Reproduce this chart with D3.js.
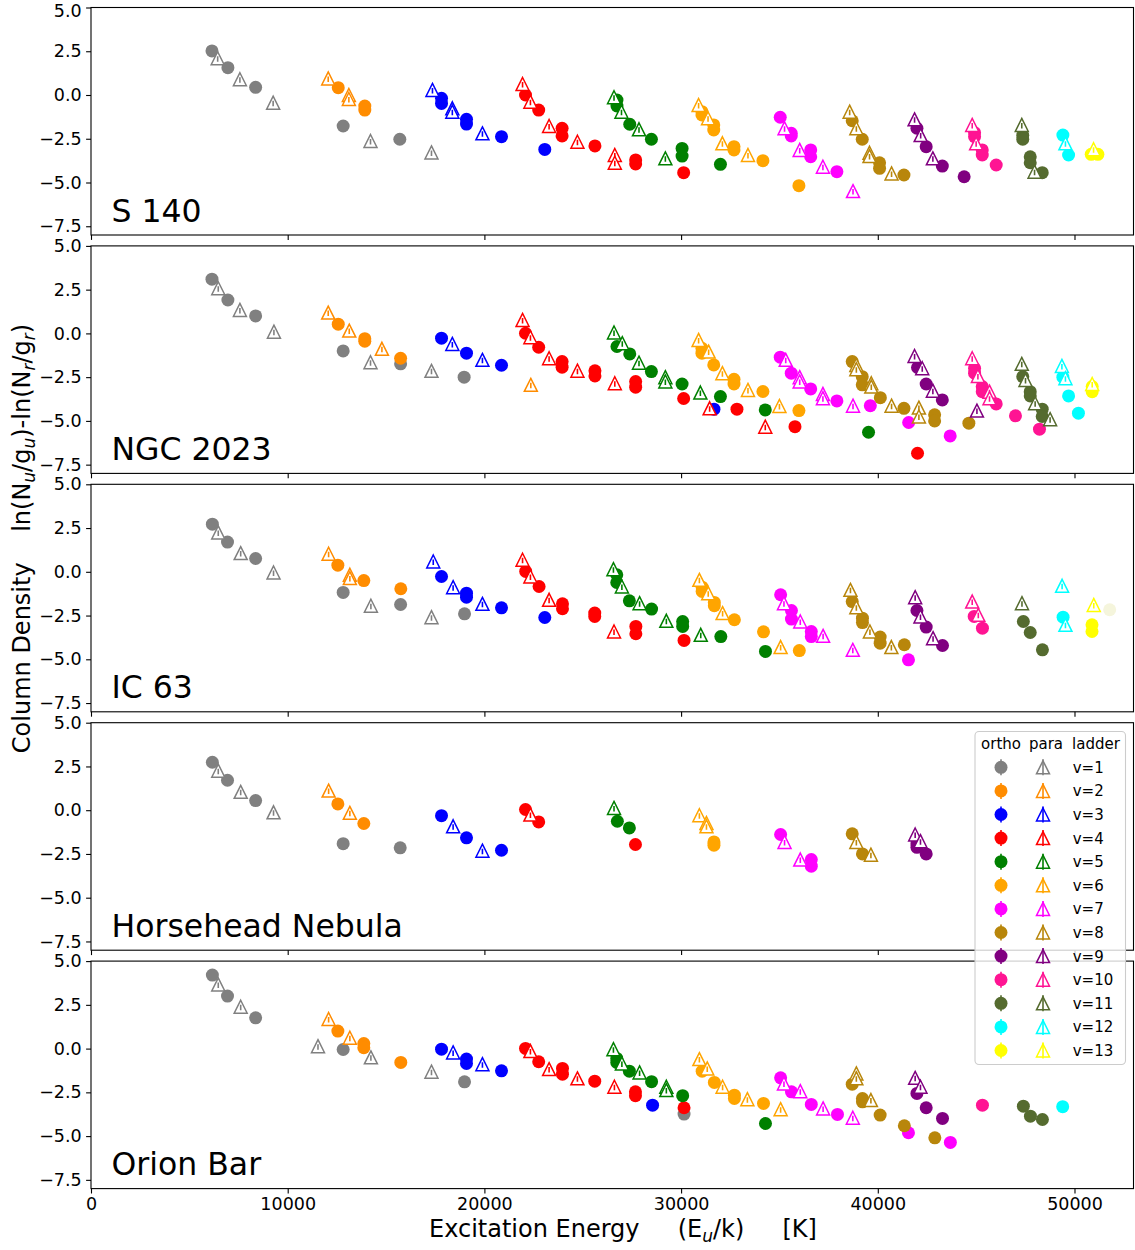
<!DOCTYPE html>
<html>
<head>
<meta charset="utf-8">
<script src="https://cdn.jsdelivr.net/npm/d3@7"></script>
<style>
  body { margin: 0; background: #fff; }
  svg { display: block; font-family: "DejaVu Sans", sans-serif; }
</style>
</head>
<body>
<svg id="chart" width="1135" height="1250"></svg>
<script>
// ---- data -------------------------------------------------------------
const sources = ["S 140", "NGC 2023", "IC 63", "Horsehead Nebula", "Orion Bar"];
const ladders = ["v=1", "v=2", "v=3", "v=4", "v=5", "v=6", "v=7",
                 "v=8", "v=9", "v=10", "v=11", "v=12", "v=13"];
const xTicks = [0, 10000, 20000, 30000, 40000, 50000];
const yTicks = [5.0, 2.5, 0.0, -2.5, -5.0, -7.5];

// each row: [vibrational level v, upper-level energy Eu/k (K), ln(Nu/gu)-ln(Nr/gr)]
const s140Ortho = [
  [1,6150,2.52],[1,6960,1.56],[1,8370,0.44],[1,12820,-1.77],[1,15700,-2.53],
  [2,12570,0.42],[2,13920,-0.63],[2,13920,-0.86],
  [3,17820,-0.19],[3,17820,-0.48],[3,19090,-1.39],[3,19090,-1.66],[3,20870,-2.38],[3,23070,-3.11],
  [4,22090,0.00],[4,22760,-0.86],[4,23950,-1.90],[4,23950,-2.34],[4,25620,-2.91],[4,27690,-3.71],[4,27690,-3.94],[4,30130,-4.44],
  [5,26740,-0.29],[5,26740,-0.63],[5,27390,-1.67],[5,28490,-2.53],[5,30050,-3.05],[5,30050,-3.49],[5,32000,-3.96],
  [6,31060,-0.95],[6,31060,-1.14],[6,31660,-1.71],[6,31660,-2.00],[6,32690,-2.95],[6,32690,-3.14],[6,34160,-3.75],[6,35990,-5.18],
  [7,35040,-1.27],[7,35600,-2.19],[7,35600,-2.34],[7,36590,-3.14],[7,36590,-3.53],[7,37920,-4.38],
  [8,38700,-1.47],[8,39210,-2.53],[8,40090,-3.87],[8,40090,-4.19],[8,41330,-4.57],
  [9,41990,-1.90],[9,42460,-2.95],[9,43280,-4.06],[9,44390,-4.67],
  [10,44920,-2.15],[10,44920,-2.38],[10,45310,-3.14],[10,45310,-3.43],[10,46020,-4.00],
  [11,47370,-2.30],[11,47370,-2.53],[11,47750,-3.53],[11,47750,-3.87],[11,48360,-4.44],
  [12,49410,-2.29],[12,49700,-3.43],
  [13,50850,-3.39],[13,51190,-3.39]
];
const s140Para = [
  [1,6440,2.10],[1,7570,0.90],[1,9260,-0.44],[1,14210,-2.63],[1,17310,-3.28],
  [2,12060,0.95],[2,13110,0.00],[2,13110,-0.23],
  [3,17360,0.29],[3,18370,-0.76],[3,18370,-0.95],[3,19900,-2.19],
  [4,21940,0.63],[4,22340,-0.38],[4,23290,-1.77],[4,24730,-2.67],[4,26630,-3.43],[4,26630,-3.87],
  [5,26590,-0.13],[5,26970,-0.95],[5,27860,-1.96],[5,29200,-3.62],
  [6,30890,-0.57],[6,31370,-1.33],[6,32100,-2.76],[6,33400,-3.43],
  [7,35260,-1.90],[7,36030,-3.14],[7,37210,-4.10],[7,38740,-5.49],
  [8,38570,-0.95],[8,38910,-1.90],[8,39580,-3.30],[8,39580,-3.49],[8,40700,-4.48],
  [9,41870,-1.39],[9,42180,-2.29],[9,42800,-3.62],
  [10,44800,-1.71],[10,45000,-2.76],
  [11,47320,-1.71],[11,47970,-4.38],
  [12,49540,-2.76],
  [13,50970,-3.10]
];

const ngc2023Ortho = [
  [1,6150,3.10],[1,6960,1.91],[1,8370,1.00],[1,12820,-1.00],[1,15740,-1.74],[1,18970,-2.50],
  [2,12570,0.53],[2,13920,-0.30],[2,13920,-0.45],[2,15740,-1.42],
  [3,17820,-0.27],[3,19090,-1.13],[3,20870,-1.82],[3,31670,-4.33],
  [4,22090,0.01],[4,22760,-0.79],[4,23950,-1.61],[4,23950,-1.93],[4,25620,-2.14],[4,25620,-2.43],[4,27690,-2.75],[4,27690,-3.07],[4,30130,-3.72],[4,32840,-4.33],[4,35790,-5.33],[4,42020,-6.85],
  [5,26740,-0.75],[5,27390,-1.17],[5,28490,-2.18],[5,30050,-2.89],[5,32000,-3.61],[5,34280,-4.37],[5,39530,-5.65],
  [6,31060,-0.85],[6,31060,-1.13],[6,31660,-1.80],[6,32690,-2.62],[6,32690,-2.89],[6,34160,-3.32],[6,35990,-4.41],
  [7,35040,-1.36],[7,35600,-2.27],[7,36590,-3.17],[7,37920,-3.86],[7,39620,-4.13],[7,41570,-5.09],[7,43680,-5.86],
  [8,38700,-1.61],[8,39210,-2.47],[8,39210,-2.94],[8,40130,-3.67],[8,41330,-4.28],[8,42890,-4.65],[8,42890,-5.00],[8,44630,-5.13],
  [9,42020,-1.95],[9,42460,-2.89],[9,43280,-3.80],
  [10,44920,-1.99],[10,44920,-2.27],[10,45310,-3.04],[10,45310,-3.33],[10,46020,-4.03],[10,47000,-4.71],[10,48220,-5.47],
  [11,47370,-2.47],[11,47750,-3.33],[11,47750,-3.57],[11,48360,-4.33],[11,48360,-4.75],
  [12,49410,-2.50],[12,49700,-3.57],[12,50200,-4.56],
  [13,50900,-3.04],[13,50900,-3.33]
];
const ngc2023Para = [
  [1,6470,2.58],[1,7570,1.34],[1,9300,0.10],[1,14210,-1.65],[1,17310,-2.14],
  [2,12060,1.19],[2,13130,0.16],[2,14790,-0.88],[2,22360,-2.94],
  [3,18370,-0.60],[3,19900,-1.51],
  [4,21940,0.77],[4,22340,-0.22],[4,23290,-1.42],[4,24730,-2.13],[4,26630,-2.85],[4,31450,-4.28],[4,34280,-5.33],
  [5,26590,0.05],[5,27010,-0.56],[5,27860,-1.67],[5,29200,-2.50],[5,29200,-2.75],[5,30980,-3.38],
  [6,30890,-0.37],[6,31400,-1.04],[6,32100,-2.27],[6,33400,-3.23],[6,35000,-4.15],
  [7,35320,-1.51],[7,36030,-2.50],[7,36030,-2.75],[7,37210,-3.46],[7,37210,-3.70],[7,38740,-4.13],
  [8,38910,-1.80],[8,38910,-2.05],[8,39670,-2.85],[8,39670,-3.04],[8,40700,-4.13],[8,42090,-4.24],[8,42090,-4.75],
  [9,41870,-1.29],[9,42260,-1.99],[9,42800,-3.27],[9,45040,-4.41],
  [10,44800,-1.42],[10,45090,-2.43],[10,45680,-3.33],[10,45680,-3.70],
  [11,47320,-1.74],[11,47510,-2.66],[11,48000,-3.99],[11,48760,-4.90],
  [12,49360,-1.86],[12,49540,-2.56],
  [13,50900,-2.89]
];

const ic63Ortho = [
  [1,6170,2.72],[1,6940,1.70],[1,8370,0.76],[1,12820,-1.18],[1,15740,-1.87],[1,18990,-2.40],
  [2,12550,0.38],[2,13870,-0.50],[2,15750,-0.97],
  [3,17820,-0.27],[3,19090,-1.22],[3,19090,-1.45],[3,20870,-2.06],[3,23070,-2.61],
  [4,22100,0.02],[4,22780,-0.84],[4,23970,-1.83],[4,23970,-2.11],[4,25610,-2.36],[4,25610,-2.55],[4,27700,-3.12],[4,27700,-3.54],[4,30150,-3.92],
  [5,26730,-0.17],[5,26730,-0.61],[5,27370,-1.66],[5,28500,-2.13],[5,30080,-2.84],[5,30080,-3.12],[5,32020,-3.70],[5,34290,-4.55],
  [6,31070,-0.88],[6,31070,-1.12],[6,31690,-1.75],[6,31690,-1.94],[6,32710,-2.74],[6,34190,-3.43],[6,36010,-4.50],
  [7,35060,-1.31],[7,35610,-2.21],[7,35610,-2.70],[7,36620,-3.41],[7,36620,-3.70],[7,41560,-5.03],
  [8,38700,-1.70],[8,39220,-2.65],[8,39220,-2.90],[8,40120,-3.73],[8,40120,-4.08],[8,41350,-4.17],
  [9,41990,-2.21],[9,42460,-3.16],[9,43290,-4.21],
  [10,44900,-2.55],[10,45320,-3.22],
  [11,47400,-2.84],[11,47750,-3.47],[11,48370,-4.46],
  [12,49420,-2.59],
  [13,50890,-3.03],[13,50890,-3.41],
  [14,51790,-2.17]
];
const ic63Para = [
  [1,6470,2.25],[1,7610,1.07],[1,9280,-0.04],[1,14230,-1.94],[1,17310,-2.59],
  [2,12080,1.03],[2,13160,-0.17],[2,13160,-0.36],
  [3,17400,0.59],[3,18410,-0.88],[3,19900,-1.83],
  [4,21940,0.69],[4,22340,-0.27],[4,23290,-1.60],[4,26590,-3.41],
  [5,26560,0.15],[5,26990,-0.84],[5,27890,-1.79],[5,29250,-2.80],[5,31000,-3.60],
  [6,30930,-0.46],[6,31380,-1.22],[6,32110,-2.36],[6,35060,-4.30],
  [7,35230,-1.79],[7,36060,-2.84],[7,37220,-3.66],[7,38730,-4.46],
  [8,38610,-1.03],[8,38910,-2.02],[8,39600,-3.41],[8,40690,-4.30],
  [9,41900,-1.45],[9,42170,-2.55],[9,42810,-3.79],
  [10,44800,-1.70],[10,45110,-2.46],
  [11,47330,-1.79],
  [12,49370,-0.80],[12,49540,-3.03],
  [13,50980,-1.89]
];

const horseheadOrtho = [
  [1,6170,2.74],[1,6940,1.71],[1,8370,0.55],[1,12820,-1.91],[1,15720,-2.15],
  [2,12550,0.36],[2,13870,-0.76],
  [3,17820,-0.31],[3,19090,-1.58],[3,20870,-2.29],
  [4,22090,0.04],[4,22760,-0.67],[4,27680,-1.96],
  [5,26760,-0.63],[5,27370,-1.01],
  [6,31670,-1.81],[6,31670,-2.00],
  [7,35060,-1.39],[7,36620,-2.82],[7,36620,-3.20],
  [8,38700,-1.35],[8,39220,-2.50],
  [9,41990,-1.93],[9,41990,-2.12],[9,42460,-2.50]
];
const horseheadPara = [
  [1,6470,2.26],[1,7610,1.05],[1,9280,-0.12],
  [2,12080,1.12],[2,13160,-0.15],
  [3,18410,-0.92],[3,19900,-2.31],
  [4,22340,-0.25],
  [5,26590,0.13],
  [6,30930,-0.29],[6,31290,-0.73],[6,31290,-0.92],
  [7,35260,-1.81],[7,36060,-2.82],
  [8,38910,-1.81],[8,39650,-2.54],
  [9,41900,-1.39],[9,42170,-1.77]
];

const orionBarOrtho = [
  [1,6170,4.20],[1,6940,3.00],[1,8370,1.76],[1,12820,-0.05],[1,18990,-1.90],[1,30150,-3.74],
  [2,12550,1.00],[2,13870,0.29],[2,13870,0.05],[2,15750,-0.79],
  [3,17820,-0.03],[3,19090,-0.60],[3,19090,-0.85],[3,20870,-1.27],[3,28550,-3.23],
  [4,22090,0.01],[4,22760,-0.75],[4,23970,-1.13],[4,23970,-1.46],[4,25610,-1.86],[4,27680,-2.47],[4,27680,-2.69],[4,30150,-3.38],
  [5,26730,-0.56],[5,26730,-0.79],[5,27370,-1.29],[5,28500,-1.89],[5,30080,-2.69],[5,34290,-4.28],
  [6,31070,-1.29],[6,31690,-1.93],[6,32710,-2.66],[6,32710,-2.85],[6,34190,-3.13],
  [7,35060,-1.67],[7,35610,-2.47],[7,36620,-3.19],[7,37950,-3.76],[7,41560,-4.81],[7,43690,-5.36],
  [8,38700,-2.03],[8,39220,-2.85],[8,39220,-3.04],[8,40120,-3.80],[8,41350,-4.41],[8,42900,-5.10],
  [9,41990,-2.56],[9,42460,-3.38],[9,43290,-3.99],
  [10,45320,-3.23],
  [11,47400,-3.29],[11,47760,-3.86],[11,48370,-4.05],
  [12,49400,-3.32]
];
const orionBarPara = [
  [1,6470,3.67],[1,7610,2.39],[1,11540,0.14],[1,14230,-0.50],[1,17310,-1.32],
  [2,12080,1.69],[2,13160,0.62],
  [3,18410,-0.22],[3,19900,-0.89],
  [4,22340,-0.14],[4,23290,-1.17],[4,24730,-1.70],[4,26610,-2.18],
  [5,26560,-0.03],[5,26990,-0.85],[5,27890,-1.36],[5,29250,-2.18],[5,29250,-2.37],
  [6,30930,-0.60],[6,31330,-1.13],[6,32110,-2.18],[6,33370,-2.89],[6,35060,-3.46],
  [7,35230,-1.99],[7,36060,-2.43],[7,37220,-3.42],[7,38730,-3.95],
  [8,38910,-1.42],[8,38910,-1.70],[8,39650,-2.94],
  [9,41900,-1.67],[9,42170,-2.18]
];

// ---- styling ---------------------------------------------------------
// colour per vibrational level v=1..14
const ladderColors = ["#808080", "#ff8c00", "#0000ff", "#ff0000", "#008000", "#ffa500", "#ff00ff",
                      "#b8860b", "#800080", "#ff1493", "#556b2f", "#00ffff", "#ffff00", "#f5f5dc"];

const panelSets = [
  [s140Ortho, s140Para],
  [ngc2023Ortho, ngc2023Para],
  [ic63Ortho, ic63Para],
  [horseheadOrtho, horseheadPara],
  [orionBarOrtho, orionBarPara]
];

const left = 91, right = 1133.5;
const panelH = 227.5, panelStep = 238.4, firstTop = 7.5;
const tickLen = 4.9, tickPad = 4.4;
const tickFont = 17.5;
const circleR = 6.5, triHalf = 6.5;

const svg = d3.select("#chart");
const x = d3.scaleLinear().domain([0, 53000]).range([left, right]);
const yFmt = d3.format(".1f");
const colorOf = v => ladderColors[v - 1];
const triPath = `M0,${-triHalf}L${triHalf},${triHalf}L${-triHalf},${triHalf}Z`;

function styleAxis(g) {
  g.select(".domain").remove();
  g.selectAll(".tick line").attr("stroke", "#000").attr("stroke-width", 1.1);
  g.selectAll(".tick text")
    .attr("fill", "#000")
    .style("font-family", "'DejaVu Sans', sans-serif")
    .style("font-size", tickFont + "px");
}

sources.forEach((name, i) => {
  const top = firstTop + i * panelStep;
  const y = d3.scaleLinear().domain([-8, 5]).range([top + panelH, top]);
  const panel = svg.append("g").attr("class", "panel");

  const yAxisG = panel.append("g")
    .attr("transform", `translate(${left},0)`)
    .call(d3.axisLeft(y).tickValues(yTicks).tickFormat(yFmt)
      .tickSize(tickLen).tickPadding(tickPad).tickSizeOuter(0))
    .call(styleAxis);
  // keep the topmost label of the figure inside the page
  if (i === 0) {
    yAxisG.selectAll(".tick text").filter(d => d === 5.0).attr("dy", "0.52em");
  }

  panel.append("g")
    .attr("transform", `translate(0,${top + panelH})`)
    .call(d3.axisBottom(x).tickValues(xTicks)
      .tickFormat(i === sources.length - 1 ? d3.format("d") : () => "")
      .tickSize(tickLen).tickPadding(tickPad).tickSizeOuter(0))
    .call(styleAxis);

  const clipId = "clip" + i;
  panel.append("clipPath").attr("id", clipId)
    .append("rect").attr("x", left).attr("y", top)
    .attr("width", right - left).attr("height", panelH);

  const [ortho, para] = panelSets[i];
  const pts = ortho.map(d => ({ v: d[0], e: d[1], n: d[2], kind: 0 }))
    .concat(para.map(d => ({ v: d[0], e: d[1], n: d[2], kind: 1 })))
    .sort((a, b) => a.v - b.v || a.kind - b.kind);

  const marks = panel.append("g").attr("clip-path", `url(#${clipId})`);
  pts.forEach(p => {
    const c = colorOf(p.v);
    const px = x(p.e), py = y(p.n);
    if (p.kind === 0) {
      marks.append("circle").attr("cx", px).attr("cy", py).attr("r", circleR).attr("fill", c);
    } else {
      const t = marks.append("g").attr("transform", `translate(${px},${py})`);
      t.append("path").attr("d", triPath).attr("fill", "#fff")
        .attr("stroke", c).attr("stroke-width", 1.5).attr("stroke-linejoin", "miter");
      t.append("line").attr("x1", 0).attr("x2", 0).attr("y1", -2).attr("y2", 3.5)
        .attr("stroke", c).attr("stroke-width", 1.6);
    }
  });

  panel.append("rect")
    .attr("x", left).attr("y", top).attr("width", right - left).attr("height", panelH)
    .attr("fill", "none").attr("stroke", "#000").attr("stroke-width", 1.1);

  panel.append("text")
    .attr("x", 111.5).attr("y", top + 214)
    .style("font-size", "31.5px").attr("fill", "#000")
    .text(name);
});

// ---- axis titles ----------------------------------------------------
const titleFont = 24, subFont = 17, subShift = 5;
const xTitle = svg.append("text")
  .attr("x", 623).attr("y", 1237)
  .attr("text-anchor", "middle")
  .style("font-size", titleFont + "px").style("white-space", "pre").attr("fill", "#000");
xTitle.append("tspan").text("Excitation Energy     (E");
xTitle.append("tspan").attr("dy", subShift).style("font-size", subFont + "px").style("font-style", "italic").text("u");
xTitle.append("tspan").attr("dy", -subShift).text("/k)     [K]");

const yTitle = svg.append("text")
  .attr("transform", "translate(30,538.5) rotate(-90)")
  .attr("text-anchor", "middle")
  .style("font-size", titleFont + "px").style("white-space", "pre").attr("fill", "#000");
const subParts = [["Column Density    ln(N", "u"], ["/g", "u"], [")-ln(N", "r"], ["/g", "r"]];
subParts.forEach(([base, sub], k) => {
  yTitle.append("tspan").attr("dy", k === 0 ? 0 : -subShift).text(base);
  yTitle.append("tspan").attr("dy", subShift).style("font-size", subFont + "px").style("font-style", "italic").text(sub);
});
yTitle.append("tspan").attr("dy", -subShift).text(")");

// ---- legend ----------------------------------------------------------
const legend = svg.append("g").attr("class", "legend");
legend.append("rect")
  .attr("x", 975).attr("y", 731.5).attr("width", 150.5).attr("height", 333)
  .attr("rx", 4).attr("fill", "#fff").attr("fill-opacity", 0.8)
  .attr("stroke", "#cccccc").attr("stroke-width", 1.1);

const legendFont = 15;
[["ortho", 1001], ["para", 1046], ["ladder", 1096]].forEach(([t, cx]) => {
  legend.append("text").attr("x", cx).attr("y", 748.5).attr("text-anchor", "middle")
    .style("font-size", legendFont + "px").attr("fill", "#000").text(t);
});

const rowY = d3.scalePoint().domain(ladders).range([767.3, 767.3 + 23.6 * (ladders.length - 1)]);
ladders.forEach((lab, k) => {
  const c = ladderColors[k];
  const cy = rowY(lab);
  legend.append("line").attr("x1", 1001).attr("x2", 1001).attr("y1", cy - 8).attr("y2", cy + 8)
    .attr("stroke", c).attr("stroke-width", 1.6);
  legend.append("circle").attr("cx", 1001).attr("cy", cy).attr("r", circleR).attr("fill", c);
  const t = legend.append("g").attr("transform", `translate(1043,${cy})`);
  t.append("path").attr("d", triPath).attr("fill", "#fff").attr("stroke", c).attr("stroke-width", 1.5);
  t.append("line").attr("x1", 0).attr("x2", 0).attr("y1", -8).attr("y2", 8)
    .attr("stroke", c).attr("stroke-width", 1.6);
  legend.append("text").attr("x", 1072.7).attr("y", cy + 5.4)
    .style("font-size", legendFont + "px").attr("fill", "#000").text(lab);
});
</script>
</body>
</html>
